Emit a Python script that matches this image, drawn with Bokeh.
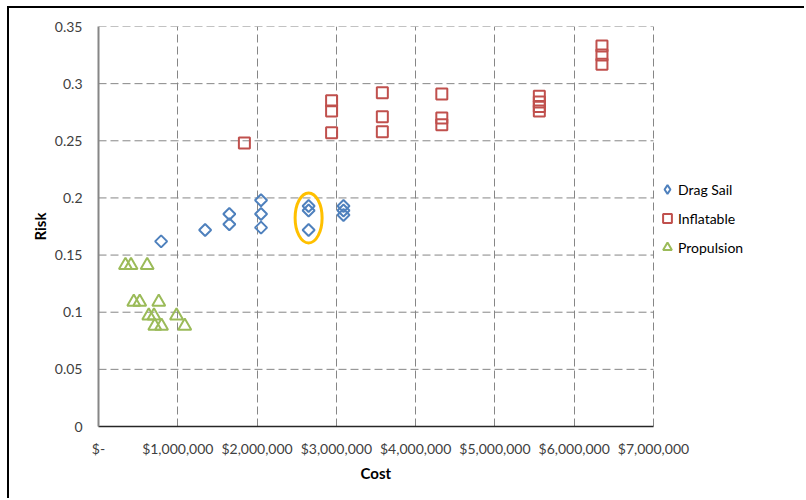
from bokeh.plotting import figure
from bokeh.models import Range1d, FixedTicker, Legend, LegendItem, Title
from bokeh.embed import file_html
from bokeh.resources import INLINE
import math

# ---- data ----
drag_cost = [790000, 1345000, 1650000, 1650000, 2050000, 2050000, 2050000,
             2650000, 2650000, 2650000, 3090000, 3090000, 3090000]
drag_risk = [0.162, 0.172, 0.186, 0.177, 0.198, 0.186, 0.174,
             0.193, 0.189, 0.172, 0.193, 0.189, 0.185]

infl_cost = [1840000, 2940000, 2940000, 2940000, 3580000, 3580000, 3580000,
             4330000, 4330000, 4330000, 5560000, 5560000, 5560000, 5560000,
             6350000, 6350000, 6350000]
infl_risk = [0.248, 0.285, 0.276, 0.257, 0.292, 0.271, 0.258,
             0.291, 0.270, 0.264, 0.289, 0.284, 0.280, 0.276,
             0.333, 0.325, 0.317]

prop_cost = [340000, 410000, 614000, 445000, 520000, 760000,
             634000, 700000, 984000, 710000, 795000, 1088000]
prop_risk = [0.141, 0.141, 0.141, 0.109, 0.109, 0.109,
             0.097, 0.097, 0.097, 0.088, 0.088, 0.088]

highlight_cost = 2650000  # circled Drag Sail design

x_ticks = [0, 1000000, 2000000, 3000000, 4000000, 5000000, 6000000, 7000000]
x_tick_labels = ["$-", "$1,000,000", "$2,000,000", "$3,000,000", "$4,000,000",
                 "$5,000,000", "$6,000,000", "$7,000,000"]
y_ticks = [0, 0.05, 0.1, 0.15, 0.2, 0.25, 0.3, 0.35]
y_tick_labels = ["0", "0.05", "0.1", "0.15", "0.2", "0.25", "0.3", "0.35"]

BLUE = "#4F81BD"
RED = "#C0504D"
GREEN = "#9BBB59"
FONT = "Lato"

# layout geometry (pixels)
FIG_W, FIG_H = 797, 492
LEFT, TOP, BOTTOM = 89, 18, 74
PLOT_W = 555            # width of the gridded plot area
FRAME_W = FIG_W - LEFT  # frame extends to the right edge to host the legend
X_MAX = x_ticks[-1]
x_end = X_MAX * FRAME_W / PLOT_W

p = figure(width=FIG_W, height=FIG_H, output_backend="svg", toolbar_location=None,
           x_range=Range1d(0, x_end), y_range=Range1d(0, y_ticks[-1]),
           min_border_left=LEFT, min_border_right=0, min_border_top=TOP,
           min_border_bottom=BOTTOM,
           styles={"margin-left": "7px", "margin-top": "6px",
                   "border-top": "2px solid black", "border-left": "2px solid black"})
p.outline_line_color = None
p.background_fill_color = "white"
p.border_fill_color = "white"

# grids
p.xgrid.ticker = FixedTicker(ticks=x_ticks)
p.xgrid.grid_line_color = "#868686"
p.xgrid.grid_line_dash = "8 4"
p.xgrid.grid_line_width = 1
p.ygrid.visible = False
p.segment(x0=[0] * len(y_ticks), x1=[X_MAX] * len(y_ticks), y0=y_ticks, y1=y_ticks,
          line_color="#868686", line_dash="8 4", line_width=1)

# axes
p.xaxis.ticker = FixedTicker(ticks=x_ticks)
p.yaxis.ticker = FixedTicker(ticks=y_ticks)
p.xaxis.bounds = (0, X_MAX)
p.xaxis.major_label_overrides = dict(zip(x_ticks, x_tick_labels))
p.yaxis.major_label_overrides = dict(zip(y_ticks, y_tick_labels))
for ax in (p.xaxis[0], p.yaxis[0]):
    ax.major_tick_line_color = None
    ax.minor_tick_line_color = None
    ax.major_label_text_font = FONT
    ax.major_label_text_font_size = "14px"
    ax.major_label_text_color = "#404040"
    ax.axis_label_text_font = FONT
    ax.axis_label_text_font_size = "15px"
    ax.axis_label_text_font_style = "bold"
    ax.axis_label_text_color = "black"
p.yaxis.axis_label = "Risk"
p.xaxis.major_label_standoff = 7
p.yaxis.major_label_standoff = 10
p.yaxis.axis_label_standoff = 3
p.yaxis.axis_line_color = "#868686"
p.yaxis.axis_line_width = 2
p.xaxis.axis_line_color = "#262626"
p.xaxis.axis_line_width = 1.5

# x-axis title, centred under the gridded area
p.add_layout(Title(text="Cost", align="left", offset=262,
                   text_font=FONT, text_font_size="15px", text_font_style="bold",
                   text_color="black", standoff=4), "below")

r_drag = p.scatter(drag_cost, drag_risk, marker="square", size=8.5, angle=math.pi / 4,
                   fill_color="white", fill_alpha=0, line_color=BLUE, line_width=2)
r_infl = p.scatter(infl_cost, infl_risk, marker="square", size=11,
                   fill_color="white", fill_alpha=0, line_color=RED, line_width=2)
r_prop = p.scatter(prop_cost, prop_risk, marker="triangle", size=13,
                   fill_color="white", fill_alpha=0, line_color=GREEN, line_width=2)
# legend-only diamond symbol (zero size on the plot)
r_drag_leg = p.scatter(drag_cost, drag_risk, marker="diamond", size=0,
                       fill_color="white", fill_alpha=0, line_color=BLUE, line_width=2)

# highlight ellipse around the circled design
hx = [c for c in drag_cost if c == highlight_cost]
hy = [r for c, r in zip(drag_cost, drag_risk) if c == highlight_cost]
cx = sum(hx) / len(hx)
cy = (max(hy) + min(hy)) / 2
p.ellipse(x=[cx], y=[cy], width=27, height=50, width_units="screen",
          height_units="screen", fill_color=None, line_color="#FFC000", line_width=3)

legend = Legend(items=[LegendItem(label="Drag Sail", renderers=[r_drag_leg]),
                       LegendItem(label="Inflatable", renderers=[r_infl]),
                       LegendItem(label="Propulsion", renderers=[r_prop])],
                location=(558, 167))
legend.border_line_color = None
legend.background_fill_alpha = 0
legend.padding = 0
legend.margin = 0
legend.spacing = 5
legend.glyph_width = 22
legend.glyph_height = 24
legend.label_height = 24
legend.label_standoff = 0
legend.label_text_font = FONT
legend.label_text_font_size = "14px"
legend.label_text_color = "black"
p.add_layout(legend)

open("out.html", "w").write(file_html(p, INLINE))
